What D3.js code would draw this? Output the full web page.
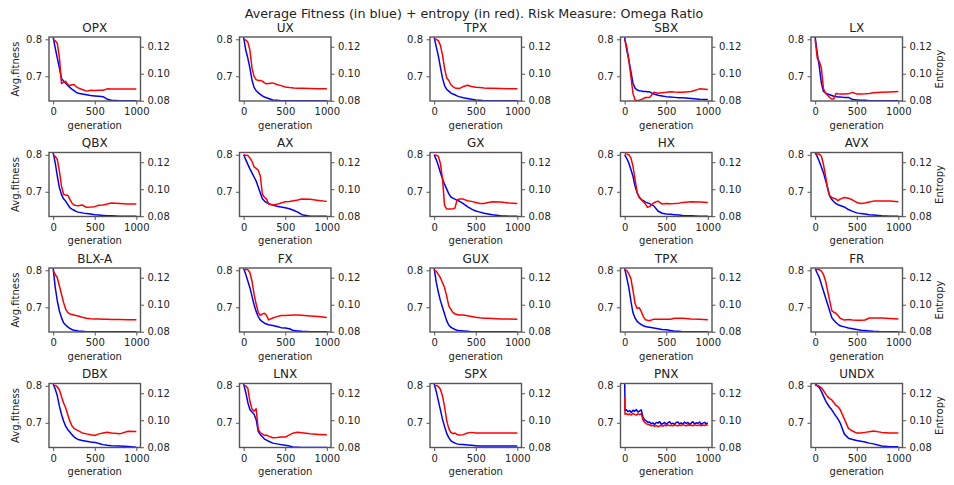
<!DOCTYPE html>
<html><head><meta charset="utf-8">
<script src="https://cdn.jsdelivr.net/npm/d3@7"></script>
<style>
html,body{margin:0;padding:0;background:#fff;}
svg{display:block;font-family:"DejaVu Sans",sans-serif;}
</style></head>
<body><svg id="chart" width="954" height="485"></svg>
<script>
const TITLE = "Average Fitness (in blue) + entropy (in red). Risk Measure: Omega Ratio";
const NAMES = ["OPX","UX","TPX","SBX","LX","QBX","AX","GX","HX","AVX","BLX-A","FX","GUX","TPX","FR","DBX","LNX","SPX","PNX","UNDX"];
const GEN = [0,25,50,75,100,125,150,175,200,225,250,275,300,350,400,450,500,550,600,650,700,800,900,1000];
const GEN_PNX = [0,4,20,40,60,80,100,120,140,160,180,200,220,240,260,280,300,320,340,360,380,400,420,440,460,480,500,520,540,560,580,600,620,640,660,680,700,720,740,760,780,800,820,840,860,880,900,920,940,960,980,1000];
const X_TICKS = [0,500,1000];
const FIT_TICKS = [0.7,0.8];
const ENT_TICKS = [0.08,0.10,0.12];

const fitOPX = [0.805,0.776,0.749,0.722,0.694,0.687,0.681,0.675,0.670,0.665,0.661,0.657,0.654,0.652,0.650,0.648,0.647,0.646,0.645,0.638,0.635,0.634,0.634,0.634];
const entOPX = [0.1254,0.1244,0.1224,0.112,0.0927,0.0937,0.0944,0.092,0.0912,0.0918,0.092,0.0905,0.0895,0.0883,0.0871,0.0878,0.0876,0.0877,0.0878,0.0888,0.0887,0.0886,0.0886,0.0886];
const fitUX = [0.805,0.771,0.749,0.722,0.690,0.670,0.661,0.656,0.651,0.647,0.644,0.642,0.640,0.636,0.635,0.634,0.634,0.634,0.634,0.634,0.634,0.634,0.634,0.634];
const entUX = [0.1254,0.125,0.1234,0.1176,0.1041,0.098,0.0956,0.095,0.095,0.0945,0.0932,0.0925,0.0928,0.0932,0.092,0.0912,0.0902,0.0898,0.0895,0.0893,0.0892,0.089,0.0889,0.0888];
const fitTPX1 = [0.805,0.78,0.755,0.725,0.695,0.675,0.665,0.66,0.655,0.652,0.65,0.647,0.645,0.642,0.64,0.638,0.636,0.635,0.634,0.634,0.634,0.634,0.634,0.634];
const entTPX1 = [0.1258,0.1255,0.1245,0.121,0.114,0.104,0.097,0.095,0.092,0.0905,0.0895,0.0893,0.089,0.0905,0.0915,0.0905,0.09,0.0898,0.0895,0.0893,0.0892,0.089,0.0889,0.0888];
const fitSBX = [0.805,0.771,0.744,0.713,0.681,0.668,0.663,0.661,0.660,0.659,0.659,0.658,0.658,0.652,0.649,0.647,0.645,0.644,0.643,0.642,0.642,0.640,0.638,0.637];
const entSBX = [0.1254,0.12,0.1102,0.098,0.0854,0.0805,0.080,0.0803,0.081,0.0815,0.0824,0.0824,0.0824,0.0862,0.0856,0.0859,0.0862,0.0866,0.0864,0.0863,0.0862,0.0868,0.0888,0.0883];
const fitLX = [0.806,0.762,0.726,0.681,0.659,0.655,0.652,0.650,0.648,0.646,0.645,0.644,0.644,0.643,0.643,0.637,0.636,0.635,0.635,0.634,0.634,0.634,0.634,0.634];
const entLX = [0.1254,0.1115,0.109,0.104,0.089,0.0854,0.0841,0.0824,0.0812,0.0812,0.0854,0.0851,0.0849,0.0849,0.0851,0.0862,0.0849,0.0850,0.0851,0.0853,0.0859,0.0862,0.0865,0.0868];
const fitQBX = [0.805,0.778,0.742,0.711,0.693,0.681,0.675,0.666,0.657,0.653,0.650,0.647,0.645,0.643,0.641,0.640,0.638,0.637,0.636,0.635,0.635,0.634,0.634,0.634];
const entQBX = [0.1254,0.1244,0.122,0.1134,0.1024,0.0963,0.0956,0.0956,0.0927,0.0898,0.0883,0.088,0.0878,0.0883,0.0866,0.0868,0.0871,0.0881,0.0883,0.089,0.0898,0.0894,0.0891,0.089];
const fitAX = [0.80,0.787,0.774,0.762,0.751,0.740,0.729,0.713,0.697,0.681,0.675,0.671,0.668,0.664,0.661,0.659,0.657,0.654,0.650,0.645,0.638,0.634,0.634,0.634];
const entAX = [0.1255,0.1252,0.1249,0.1232,0.1207,0.1166,0.1154,0.1141,0.1098,0.0963,0.0939,0.0927,0.089,0.0883,0.0888,0.0898,0.0907,0.0909,0.0915,0.092,0.0927,0.0925,0.0917,0.091];
const fitGX = [0.80,0.787,0.771,0.752,0.735,0.72,0.708,0.695,0.686,0.683,0.680,0.677,0.675,0.668,0.660,0.653,0.648,0.645,0.642,0.640,0.638,0.635,0.634,0.634];
const entGX = [0.1254,0.1252,0.1245,0.119,0.108,0.088,0.0854,0.0854,0.0854,0.0856,0.086,0.092,0.0927,0.0927,0.0915,0.091,0.0902,0.0895,0.0895,0.0902,0.0907,0.0905,0.0898,0.0895];
const fitHX = [0.80,0.79,0.778,0.76,0.742,0.715,0.697,0.686,0.679,0.676,0.672,0.670,0.668,0.662,0.648,0.642,0.640,0.639,0.638,0.637,0.636,0.635,0.634,0.634];
const entHX = [0.1262,0.126,0.1256,0.1232,0.117,0.1073,0.0976,0.0939,0.0922,0.0905,0.089,0.0866,0.0871,0.0900,0.0912,0.089,0.0895,0.0893,0.0894,0.0897,0.0902,0.0907,0.0905,0.0902];
const fitAVX = [0.806,0.795,0.782,0.767,0.751,0.731,0.711,0.688,0.679,0.673,0.668,0.665,0.663,0.659,0.652,0.647,0.643,0.641,0.640,0.638,0.637,0.635,0.634,0.634];
const entAVX = [0.126,0.126,0.126,0.1244,0.1183,0.1098,0.10,0.0951,0.0939,0.0933,0.0927,0.0915,0.0927,0.0939,0.0934,0.092,0.0902,0.0895,0.0898,0.0905,0.0912,0.0913,0.0912,0.0907];
const fitBLXA = [0.805,0.754,0.717,0.690,0.672,0.658,0.652,0.647,0.643,0.640,0.638,0.637,0.636,0.635,0.634,0.634,0.634,0.634,0.634,0.634,0.634,0.634,0.634,0.634];
const entBLXA = [0.1255,0.1224,0.12,0.1139,0.1078,0.1017,0.0968,0.0944,0.0932,0.0928,0.0924,0.092,0.0917,0.0907,0.090,0.0897,0.0895,0.0894,0.0893,0.0892,0.0891,0.089,0.0889,0.0888];
const fitFX = [0.805,0.789,0.771,0.753,0.73,0.707,0.689,0.675,0.666,0.661,0.657,0.655,0.653,0.651,0.648,0.645,0.644,0.642,0.637,0.636,0.635,0.634,0.634,0.634];
const entFX = [0.126,0.126,0.126,0.1237,0.1176,0.1078,0.1005,0.0944,0.092,0.0932,0.0937,0.092,0.0888,0.0902,0.0912,0.092,0.092,0.0922,0.0924,0.0923,0.0922,0.0917,0.0912,0.0905];
const fitGUX = [0.805,0.768,0.741,0.718,0.70,0.682,0.664,0.652,0.646,0.643,0.640,0.638,0.637,0.636,0.635,0.634,0.634,0.634,0.634,0.634,0.634,0.634,0.634,0.634];
const entGUX = [0.1256,0.1249,0.1224,0.12,0.1163,0.1127,0.1066,0.0993,0.0968,0.0944,0.0932,0.0928,0.0924,0.0924,0.0919,0.0913,0.0907,0.0903,0.09,0.0899,0.0898,0.0895,0.0894,0.0893];
const fitTPX3 = [0.805,0.78,0.753,0.717,0.685,0.671,0.662,0.657,0.653,0.650,0.648,0.647,0.646,0.644,0.642,0.640,0.639,0.637,0.635,0.635,0.634,0.634,0.634,0.634];
const entTPX3 = [0.126,0.1254,0.1229,0.1193,0.1107,0.1009,0.0973,0.0978,0.0949,0.0912,0.0888,0.0885,0.0881,0.0893,0.0893,0.0893,0.0893,0.0893,0.09,0.09,0.09,0.0895,0.0893,0.0888];
const fitFR = [0.805,0.792,0.78,0.762,0.744,0.726,0.708,0.690,0.672,0.665,0.659,0.654,0.650,0.647,0.644,0.642,0.640,0.638,0.637,0.636,0.635,0.634,0.634,0.634];
const entFR = [0.126,0.126,0.126,0.1249,0.1224,0.1176,0.1102,0.1029,0.0956,0.0944,0.0937,0.092,0.09,0.0886,0.089,0.0887,0.0885,0.0885,0.0887,0.0902,0.0902,0.0902,0.0898,0.0895];
const fitDBX = [0.805,0.791,0.773,0.745,0.723,0.705,0.691,0.682,0.675,0.668,0.662,0.658,0.655,0.652,0.650,0.648,0.647,0.644,0.641,0.639,0.638,0.637,0.636,0.634];
const entDBX = [0.1258,0.1258,0.1248,0.1224,0.1176,0.1128,0.1092,0.1043,0.0995,0.0959,0.094,0.093,0.0923,0.0906,0.0899,0.0892,0.0887,0.0899,0.0906,0.0911,0.0906,0.0899,0.0918,0.0916];
const fitLNX = [0.805,0.782,0.755,0.736,0.729,0.723,0.709,0.677,0.668,0.662,0.656,0.653,0.650,0.645,0.643,0.641,0.639,0.637,0.634,0.634,0.633,0.633,0.633,0.633];
const entLNX = [0.1258,0.1253,0.1236,0.114,0.1084,0.1067,0.1085,0.0935,0.0906,0.0899,0.0887,0.089,0.0882,0.087,0.0872,0.0875,0.0875,0.0892,0.0906,0.0911,0.0908,0.0899,0.0895,0.0892];
const fitSPX = [0.805,0.785,0.76,0.735,0.71,0.69,0.672,0.66,0.652,0.648,0.645,0.643,0.642,0.641,0.640,0.639,0.638,0.637,0.637,0.637,0.637,0.637,0.637,0.637];
const entSPX = [0.1258,0.1258,0.125,0.123,0.118,0.110,0.100,0.094,0.091,0.090,0.0905,0.0895,0.089,0.0893,0.0905,0.091,0.0905,0.0905,0.0905,0.0905,0.0905,0.0905,0.0905,0.0905];
const fitPNX = [0.83,0.733,
  0.735,0.730,0.733,0.728,0.734,0.731,0.736,0.729,0.732,0.735,
  0.716,0.708,0.705,0.701,
  0.702,0.697,0.700,0.695,0.701,0.699,0.703,0.696,0.698,0.701,0.696,0.700,0.703,0.697,0.699,0.695,0.701,0.702,
  0.697,0.700,0.696,0.702,0.698,0.701,0.696,0.699,0.703,0.697,0.700,0.698,0.702,0.696,0.699,0.701,0.697,0.700];
const entPNX = [0.1171,0.1045,
  0.1048,0.1041,0.1046,0.1039,0.1050,0.1043,0.1038,0.1047,0.1042,0.1049,
  0.1002,0.0985,0.0975,0.0968,
  0.0966,0.0958,0.0962,0.0955,0.0960,0.0952,0.0957,0.0961,0.0956,0.0964,0.0959,0.0966,0.0960,0.0963,0.0958,0.0967,0.0961,0.0959,
  0.0965,0.0960,0.0968,0.0962,0.0958,0.0966,0.0961,0.0964,0.0959,0.0967,0.0962,0.0960,0.0966,0.0959,0.0964,0.0961,0.0967,0.0962];
const fitUNDX = [0.806,0.80,0.795,0.785,0.772,0.76,0.75,0.742,0.735,0.726,0.718,0.71,0.70,0.67,0.658,0.655,0.652,0.65,0.648,0.645,0.643,0.637,0.635,0.635];
const entUNDX = [0.1258,0.1258,0.125,0.124,0.122,0.1195,0.1175,0.116,0.115,0.113,0.111,0.11,0.108,0.101,0.094,0.092,0.0905,0.0905,0.091,0.0915,0.092,0.091,0.0905,0.0905];

const FITNESS = [fitOPX,fitUX,fitTPX1,fitSBX,fitLX,fitQBX,fitAX,fitGX,fitHX,fitAVX,fitBLXA,fitFX,fitGUX,fitTPX3,fitFR,fitDBX,fitLNX,fitSPX,fitPNX,fitUNDX];
const ENTROPY = [entOPX,entUX,entTPX1,entSBX,entLX,entQBX,entAX,entGX,entHX,entAVX,entBLXA,entFX,entGUX,entTPX3,entFR,entDBX,entLNX,entSPX,entPNX,entUNDX];

const svg = d3.select("#chart");
const W = 91.5, H = 64;
const colX = [49, 239.5, 430, 620.5, 811];
const rowY = [37, 152.5, 268, 383.5];
const FONT = "DejaVu Sans";
const TXT = "#222";
const SPINE = "#555";

svg.append("text").attr("x", 474).attr("y", 18).attr("text-anchor", "middle")
  .attr("font-size", 12.7).attr("fill", TXT).text(TITLE);

const x = d3.scaleLinear().domain([-50, 1050]).range([0, W]);
const yL = d3.scaleLinear().domain([0.6332, 0.8062]).range([H, 0]);
const yR = d3.scaleLinear().domain([0.0798, 0.1272]).range([H, 0]);

NAMES.forEach((name, i) => {
  const r = Math.floor(i / 5), c = i % 5;
  const gens = name === "PNX" ? GEN_PNX : GEN;
  const g = svg.append("g").attr("transform", `translate(${colX[c]},${rowY[r]})`);
  const cid = "clip" + i;
  g.append("clipPath").attr("id", cid).append("rect").attr("width", W).attr("height", H);

  const fitData = gens.map((gv, k) => [gv, FITNESS[i][k]]);
  const entData = gens.map((gv, k) => [gv, ENTROPY[i][k]]);
  const lineL = d3.line().defined(d => d[1] != null).x(d => x(d[0])).y(d => yL(d[1]));
  const lineR = d3.line().defined(d => d[1] != null).x(d => x(d[0])).y(d => yR(d[1]));
  const plot = g.append("g").attr("clip-path", `url(#${cid})`);
  plot.append("path").datum(fitData).attr("d", lineL).attr("fill", "none")
    .attr("stroke", "#0000ff").attr("stroke-width", 1.5).attr("stroke-linejoin", "round");
  plot.append("path").datum(entData).attr("d", lineR).attr("fill", "none")
    .attr("stroke", "#ff0000").attr("stroke-width", 1.5).attr("stroke-linejoin", "round");

  const styleAxis = sel => {
    sel.select(".domain").remove();
    sel.selectAll(".tick line").attr("stroke", SPINE).attr("stroke-width", 1);
    sel.selectAll(".tick text").attr("fill", TXT).attr("font-size", 10).attr("font-family", FONT);
  };
  g.append("g").attr("transform", `translate(0,${H})`)
    .call(d3.axisBottom(x).tickValues(X_TICKS).tickSize(3.5).tickPadding(3.5).tickFormat(d3.format("d")))
    .call(styleAxis);
  g.append("g")
    .call(d3.axisLeft(yL).tickValues(FIT_TICKS).tickSize(3.5).tickPadding(3.5).tickFormat(d3.format(".1f")))
    .call(styleAxis);
  g.append("g").attr("transform", `translate(${W},0)`)
    .call(d3.axisRight(yR).tickValues(ENT_TICKS).tickSize(3.5).tickPadding(3.5).tickFormat(d3.format(".2f")))
    .call(styleAxis);

  g.append("rect").attr("width", W).attr("height", H).attr("fill", "none")
    .attr("stroke", SPINE).attr("stroke-width", 1.4);

  g.append("text").attr("x", W / 2).attr("y", -5.5).attr("text-anchor", "middle")
    .attr("font-size", 12).attr("fill", TXT).text(name);
  g.append("text").attr("x", W / 2).attr("y", H + 27.5).attr("text-anchor", "middle")
    .attr("font-size", 10).attr("fill", TXT).text("generation");
  if (c === 0) {
    g.append("text").attr("transform", `translate(${19 - colX[c]},${H / 2}) rotate(-90)`)
      .attr("text-anchor", "middle").attr("font-size", 10).attr("fill", TXT).text("Avg.fitness");
  }
  if (c === 4) {
    g.append("text").attr("transform", `translate(${943 - colX[c]},${H / 2}) rotate(-90)`)
      .attr("text-anchor", "middle").attr("font-size", 10).attr("fill", TXT).text("Entropy");
  }
});
</script></body></html>
